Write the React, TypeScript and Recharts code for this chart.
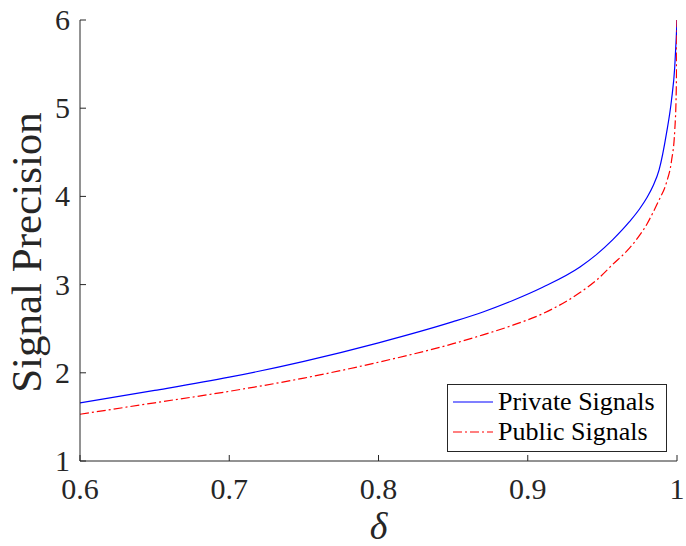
import React from 'react';
import { LineChart, Line, XAxis, YAxis, Legend } from 'recharts';

const deltas = [0.6, 0.65, 0.7, 0.75, 0.8, 0.85, 0.87, 0.89, 0.91, 0.935, 0.946, 0.957, 0.968, 0.975, 0.98, 0.984, 0.988, 0.993, 0.9963, 0.9985, 0.9995, 1.0];
const privateSignals = [1.66, 1.8, 1.95, 2.13, 2.34, 2.58, 2.69, 2.82, 2.97, 3.2, 3.34, 3.51, 3.71, 3.86, 3.99, 4.12, 4.3, 4.72, 5.09, 5.47, 5.8, 6.0];
const publicSignals = [1.53, 1.66, 1.79, 1.94, 2.12, 2.33, 2.43, 2.54, 2.67, 2.91, 3.05, 3.23, 3.41, 3.56, 3.69, 3.82, 3.96, 4.16, 4.4, 4.75, 5.2, 6.0];
const seriesNames = ['Private Signals', 'Public Signals'];
const seriesColors = ['#0000ff', '#ff0000'];
const xTicks = [0.6, 0.7, 0.8, 0.9, 1];
const xTickLabels = ['0.6', '0.7', '0.8', '0.9', '1'];
const yTicks = [1, 2, 3, 4, 5, 6];
const yTickLabels = ['1', '2', '3', '4', '5', '6'];

const data = deltas.map((d, i) => ({ delta: d, priv: privateSignals[i], pub: publicSignals[i] }));

const AX = '#262626';
const FONT = "'Liberation Serif', 'DejaVu Serif', serif";
const TL = 6;

const xLabel = (v: number) => xTickLabels[xTicks.indexOf(v)] ?? String(v);
const yLabel = (v: number) => yTickLabels[yTicks.indexOf(v)] ?? String(v);

const XTickBottom = (p: any) => (
  <g>
    <line x1={p.x} y1={p.y} x2={p.x} y2={p.y - TL} stroke={AX} strokeWidth={1} />
    <text x={p.x} y={p.y + 38} textAnchor="middle" fill={AX} style={{ fontSize: 30, fontFamily: FONT }}>
      {xLabel(p.payload.value)}
    </text>
  </g>
);
const XTickTop = (p: any) => (
  <line x1={p.x} y1={p.y} x2={p.x} y2={p.y + TL} stroke={AX} strokeWidth={1} />
);
const YTickLeft = (p: any) => (
  <g>
    <line x1={p.x} y1={p.y} x2={p.x + TL} y2={p.y} stroke={AX} strokeWidth={1} />
    <text x={p.x - 10} y={p.y + 10} textAnchor="end" fill={AX} style={{ fontSize: 30, fontFamily: FONT }}>
      {yLabel(p.payload.value)}
    </text>
  </g>
);
const YTickRight = (p: any) => (
  <line x1={p.x} y1={p.y} x2={p.x - TL} y2={p.y} stroke={AX} strokeWidth={1} />
);

const LegendBox = () => (
  <div
    style={{
      border: `1px solid ${AX}`,
      background: '#fff',
      width: 218,
      height: 64,
      boxSizing: 'content-box',
      fontFamily: FONT,
      fontSize: 26,
      color: '#000',
      paddingTop: 2,
      textAlign: 'left',
    }}
  >
    {seriesNames.map((n, i) => (
      <div key={n} style={{ display: 'flex', alignItems: 'center', height: 30, lineHeight: '30px', whiteSpace: 'nowrap' }}>
        <svg width={50} height={10} style={{ marginLeft: 5, flex: 'none' }}>
          <line
            x1={0}
            y1={5}
            x2={40}
            y2={5}
            stroke={seriesColors[i]}
            strokeWidth={1.2}
            strokeDasharray={i === 1 ? '9 3 2 3' : undefined}
          />
        </svg>
        <span style={{ marginLeft: -5 }}>{n}</span>
      </div>
    ))}
  </div>
);

export default function App() {
  return (
    <div style={{ position: 'absolute', left: 0, top: 0, width: 686, height: 546, background: '#fff' }}>
      <LineChart
        width={686}
        height={546}
        data={data}
        margin={{ top: 20, right: 9, bottom: 45, left: 20 }}
      >
        <XAxis
          dataKey="delta"
          type="number"
          domain={[0.6, 1]}
          ticks={xTicks}
          interval={0}
          height={40}
          tickSize={0}
          tickMargin={0}
          tickLine={false}
          tick={<XTickBottom />}
          axisLine={{ stroke: AX, strokeWidth: 1 }}
          allowDataOverflow
          label={{ value: 'δ', position: 'center', dy: 45, style: { fontSize: 38, fontStyle: 'italic', fontFamily: FONT, fill: AX } }}
        />
        <XAxis
          xAxisId="top"
          orientation="top"
          dataKey="delta"
          type="number"
          domain={[0.6, 1]}
          ticks={xTicks}
          interval={0}
          height={0}
          tickSize={0}
          tickMargin={0}
          tickLine={false}
          tick={<XTickTop />}
          axisLine={{ stroke: AX, strokeWidth: 1 }}
          allowDataOverflow
        />
        <YAxis
          type="number"
          domain={[1, 6]}
          ticks={yTicks}
          interval={0}
          width={60}
          tickSize={0}
          tickMargin={0}
          tickLine={false}
          tick={<YTickLeft />}
          axisLine={{ stroke: AX, strokeWidth: 1 }}
          allowDataOverflow
          label={{ value: 'Signal Precision', angle: -90, position: 'center', dx: -24, dy: 12, style: { fontSize: 43, fontFamily: FONT, fill: AX } }}
        />
        <YAxis
          yAxisId="right"
          orientation="right"
          type="number"
          domain={[1, 6]}
          ticks={yTicks}
          interval={0}
          width={0}
          tickSize={0}
          tickMargin={0}
          tickLine={false}
          tick={<YTickRight />}
          axisLine={{ stroke: AX, strokeWidth: 1 }}
          allowDataOverflow
        />
        <Legend
          layout="horizontal"
          verticalAlign="middle"
          align="center"
          content={<LegendBox />}
          wrapperStyle={{ left: 447, top: 384, right: 'auto', bottom: 'auto', width: 220, height: 66 }}
        />
        <Line
          dataKey="priv"
          name={seriesNames[0]}
          type="monotone"
          stroke={seriesColors[0]}
          strokeWidth={1.2}
          dot={false}
          isAnimationActive={false}
        />
        <Line
          dataKey="pub"
          name={seriesNames[1]}
          type="monotone"
          stroke={seriesColors[1]}
          strokeWidth={1.2}
          strokeDasharray="9 3 2 3"
          dot={false}
          isAnimationActive={false}
        />
      </LineChart>
    </div>
  );
}
